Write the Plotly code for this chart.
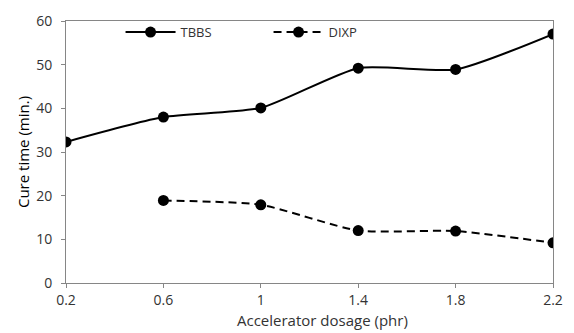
import plotly.graph_objects as go

dosage = [0.2, 0.6, 1.0, 1.4, 1.8, 2.2]
tbbs = [32.3, 38.0, 40.1, 49.2, 48.9, 57.0]
dixp_dosage = [0.6, 1.0, 1.4, 1.8, 2.2]
dixp = [18.9, 17.9, 12.0, 11.9, 9.2]
x_ticks = [0.2, 0.6, 1.0, 1.4, 1.8, 2.2]
x_tick_labels = ["0.2", "0.6", "1", "1.4", "1.8", "2.2"]
y_ticks = [0, 10, 20, 30, 40, 50, 60]

FONT = "Open Sans"
TXT = "#333333"

fig = go.Figure()
fig.add_trace(go.Scatter(
    x=dosage, y=tbbs, name="TBBS", mode="lines+markers",
    line=dict(color="black", width=2, shape="spline", smoothing=0.6),
    marker=dict(color="black", size=11, symbol="circle"),
))
fig.add_trace(go.Scatter(
    x=dixp_dosage, y=dixp, name="DIXP", mode="lines+markers",
    line=dict(color="black", width=2, dash="8px,5px", shape="spline", smoothing=0.6),
    marker=dict(color="black", size=11, symbol="circle"),
))

axis_common = dict(
    showline=True, linecolor="#868686", linewidth=1, mirror=True,
    ticks="outside", ticklen=4, tickcolor="#868686",
    showgrid=False, zeroline=False,
    tickfont=dict(family=FONT, size=14, color=TXT),
)

fig.update_layout(
    width=574, height=333,
    margin=dict(l=66, r=11, t=19, b=50),
    paper_bgcolor="white", plot_bgcolor="white",
    font=dict(family=FONT, size=14, color=TXT),
    xaxis=dict(range=[0.2, 2.2], tickvals=x_ticks, ticktext=x_tick_labels,
               ticklabelstandoff=0, **axis_common),
    yaxis=dict(range=[0, 60], tickvals=y_ticks, ticklabelstandoff=6,
               title=dict(text="Cure time (min.)", standoff=2,
                          font=dict(family=FONT, size=15, color="black")),
               **axis_common),
    legend=dict(orientation="h", x=0.112, y=1.015, xanchor="left", yanchor="top",
                bgcolor="rgba(0,0,0,0)", itemwidth=50, entrywidth=83,
                font=dict(family=FONT, size=13, color=TXT)),
    showlegend=True,
    annotations=[dict(text="Accelerator dosage (phr)", xref="paper", yref="paper",
                      x=0.526, y=0, yshift=-25, xanchor="center", yanchor="top",
                      showarrow=False, font=dict(family=FONT, size=15, color=TXT))],
)

fig.write_html("out.html")
